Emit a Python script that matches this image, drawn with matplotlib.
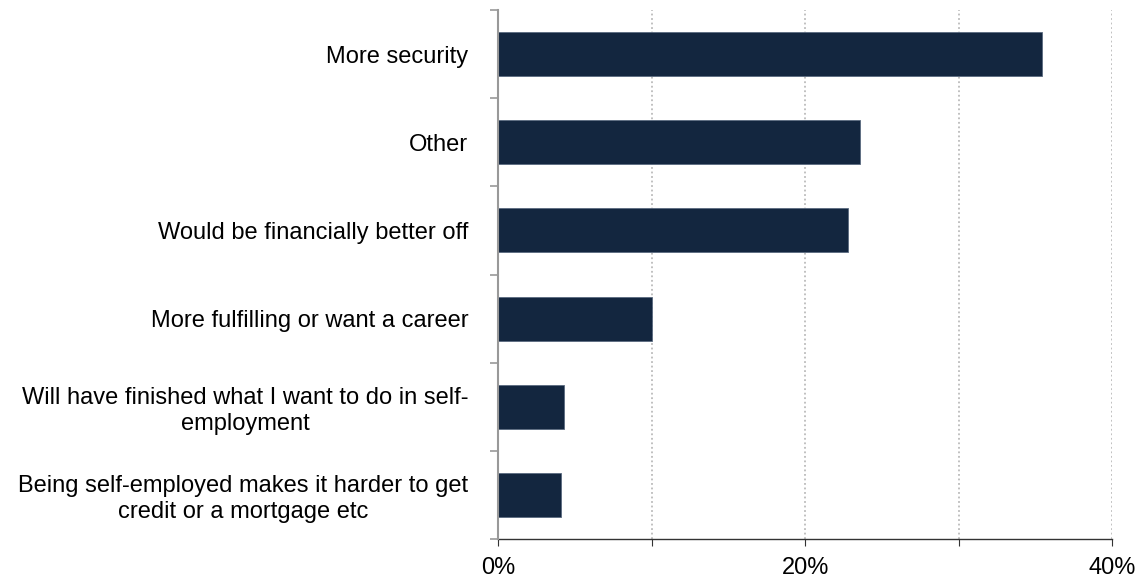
import matplotlib
matplotlib.use("Agg")
import matplotlib.pyplot as plt
import numpy as np

categories = [
    "More security",
    "Other",
    "Would be financially better off",
    "More fulfilling or want a career",
    "Will have finished what I want to do in self-\nemployment",
    "Being self-employed makes it harder to get\ncredit or a mortgage etc",
]
values = [35.4, 23.6, 22.8, 10.0, 4.3, 4.1]
xticks = [0, 10, 20, 30, 40]
xticklabels = ["0%", "", "20%", "", "40%"]

plt.rcParams['font.family'] = ['Liberation Sans', 'DejaVu Sans']

fig = plt.figure(figsize=(11.39, 5.79), dpi=100)
ax = fig.add_axes([498/1139, 1-539/579, (1112.3-498)/1139, (539-10)/579])

y = np.arange(len(categories))
ax.barh(y, values, height=0.5, color="#13263F", edgecolor="#5a6a80", linewidth=0.6, zorder=3)
ax.set_ylim(len(categories)-0.5, -0.5)
ax.set_xlim(0, 40)

ax.set_yticks(y)
ax.set_yticklabels(categories, fontsize=17, ma='center')
ax.tick_params(axis='y', length=0, pad=21.5)
ax.set_yticks(np.arange(-0.5, len(categories)), minor=True)
ax.tick_params(axis='y', which='minor', length=6, color="#999999", width=1.2)

ax.set_xticks(xticks)
ax.set_xticklabels(xticklabels, fontsize=17)
ax.tick_params(axis='x', length=5, direction='out', color="#333333", pad=8)

for xv in xticks[1:]:
    ax.axvline(xv, color="#bbbbbb", linestyle=(0, (1, 1.5)), linewidth=1.3, zorder=1)

for s in ['top', 'right']:
    ax.spines[s].set_visible(False)
ax.spines['left'].set_color("#999999")
ax.spines['left'].set_linewidth(1.5)
ax.spines['bottom'].set_color("#333333")
ax.spines['bottom'].set_linewidth(1.0)
ax.spines['left'].set_zorder(4)

fig.savefig("out.png", dpi=100)
